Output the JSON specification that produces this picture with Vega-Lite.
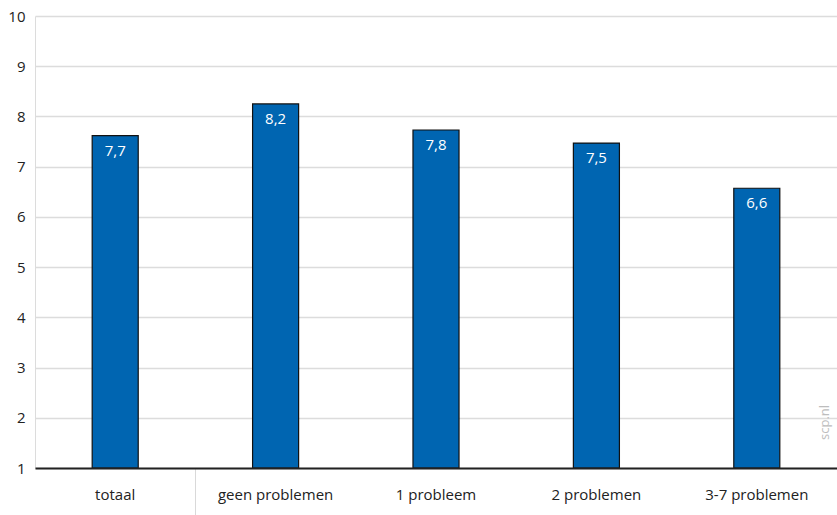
{
  "$schema": "https://vega.github.io/schema/vega-lite/v6.json",
  "width": 802,
  "height": 452,
  "autosize": {"type": "none"},
  "padding": {"left": 35, "top": 16, "right": 0, "bottom": 47},
  "background": "white",
  "config": {"view": {"stroke": null}, "font": "Open Sans"},
  "datasets": {
    "scores": [
      {"groep": "totaal", "score": 7.62, "label": "7,7"},
      {"groep": "geen problemen", "score": 8.25, "label": "8,2"},
      {"groep": "1 probleem", "score": 7.73, "label": "7,8"},
      {"groep": "2 problemen", "score": 7.47, "label": "7,5"},
      {"groep": "3-7 problemen", "score": 6.57, "label": "6,6"}
    ],
    "bron": [{"groep": "3-7 problemen", "score": 1, "label": "scp.nl"}]
  },
  "layer": [
    {
      "data": {"name": "scores"},
      "encoding": {
        "x": {
          "field": "groep", "type": "nominal", "sort": null,
          "scale": {"paddingInner": 0, "paddingOuter": 0},
          "axis": {
            "title": null, "labelAngle": 0, "labelFontSize": 15, "labelColor": "#222222",
            "domainColor": "#222222", "domainWidth": 2,
            "bandPosition": 0, "tickSize": 47, "tickWidth": 1,
            "tickColor": {"condition": {"test": "datum.value === 'geen problemen'", "value": "#d9d9d9"}, "value": "transparent"},
            "labelPadding": -28, "zindex": 1
          }
        },
        "y": {
          "field": "score", "type": "quantitative",
          "scale": {"domain": [1, 10], "nice": false, "zero": false},
          "axis": {
            "title": null, "values": [1, 2, 3, 4, 5, 6, 7, 8, 9, 10],
            "grid": true, "gridColor": "#dcdcdc", "gridWidth": 1.5,
            "domainColor": "#dcdcdc", "ticks": false, "labelPadding": 10,
            "labelFontSize": 15, "labelColor": "#222222"
          }
        }
      },
      "layer": [
        {
          "mark": {"type": "bar", "color": "#0065B1", "stroke": "#111111", "strokeWidth": 1.2, "width": {"band": 0.287}},
          "encoding": {"y2": {"datum": 1}}
        },
        {
          "mark": {"type": "text", "baseline": "top", "dy": 8, "color": "white", "fontSize": 15},
          "encoding": {"text": {"field": "label"}}
        }
      ]
    },
    {
      "data": {"name": "bron"},
      "mark": {"type": "text", "angle": 270, "align": "left", "baseline": "bottom", "dx": 28, "dy": -5, "color": "#bdbdbd", "fontSize": 13},
      "encoding": {
        "x": {"field": "groep", "type": "nominal", "sort": null, "bandPosition": 1},
        "y": {"field": "score", "type": "quantitative"},
        "text": {"field": "label"}
      }
    }
  ]
}
